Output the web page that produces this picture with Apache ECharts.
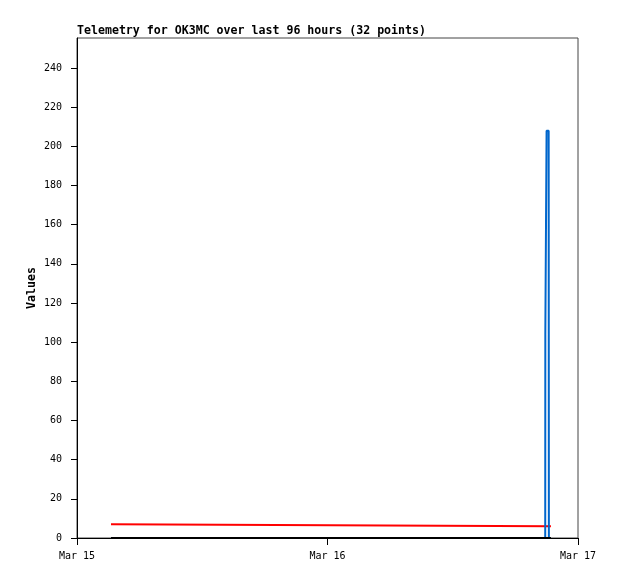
<!DOCTYPE html>
<html><head><meta charset="utf-8">
<script src="https://cdn.jsdelivr.net/npm/echarts@6/dist/echarts.min.js"></script>
<style>html,body{margin:0;padding:0;background:#fff}#c{width:618px;height:579px}</style>
</head><body><div id="c"></div>
<script>
// hours since Mar 15 00:00
var xTickLabels = ['Mar 15', 'Mar 16', 'Mar 17'];
var redHours = [3.26, 3.45, 45.41];
var redValues = [7, 6, 6];
var blueHours = [3.26, 44.86, 44.87, 44.99, 45.19, 45.21, 45.41];
var blueValues = [0, 0, 104, 208, 208, 0, 0];
var blackHours = [3.26, 45.41];
var blackValues = [0, 0];

function pairs(h, v) { return h.map(function (x, i) { return [x, v[i]]; }); }
var mono = 'DejaVu Sans Mono';
var chart = echarts.init(document.getElementById('c'), null, {renderer: 'canvas'});
chart.setOption({
  animation: false,
  backgroundColor: '#fff',
  title: {
    text: 'Telemetry for OK3MC over last 96 hours (32 points)',
    left: 77, top: 25, padding: 0,
    textStyle: {fontFamily: mono, fontSize: 11.6, fontWeight: 'bold', color: '#000'}
  },
  grid: {left: 77, right: 40, top: 38, bottom: 41, show: true, borderColor: '#444', borderWidth: 1},
  xAxis: {
    type: 'value', min: 0, max: 48, interval: 24,
    axisLine: {show: true, lineStyle: {color: '#000', width: 1}},
    axisTick: {show: true, length: 7, lineStyle: {color: '#000'}},
    splitLine: {show: false},
    axisLabel: {
      fontFamily: mono, fontSize: 10, color: '#000', margin: 13,
      formatter: function (v) { return xTickLabels[Math.round(v / 24)] || ''; }
    }
  },
  yAxis: {
    type: 'value', min: 0, max: 255.3, interval: 20,
    name: 'Values', nameLocation: 'middle', nameRotate: 90, nameGap: 39,
    nameMoveOverlap: false,
    nameTextStyle: {fontFamily: mono, fontSize: 11.6, fontWeight: 'bold', color: '#000'},
    axisLine: {show: true, lineStyle: {color: '#000', width: 1}},
    axisTick: {show: true, length: 6, lineStyle: {color: '#000'}},
    splitLine: {show: false},
    axisLabel: {fontFamily: mono, fontSize: 10, color: '#000', margin: 15, showMaxLabel: false}
  },
  series: [
    {type: 'line', data: pairs(redHours, redValues), showSymbol: false,
     lineStyle: {color: '#ff0000', width: 2}, itemStyle: {color: '#ff0000'}},
    {type: 'line', data: pairs(blueHours, blueValues), showSymbol: false,
     lineStyle: {color: '#0066cc', width: 2}, itemStyle: {color: '#0066cc'}},
    {type: 'line', data: pairs(blackHours, blackValues), showSymbol: false,
     lineStyle: {color: '#000000', width: 2}, itemStyle: {color: '#000'}}
  ]
});
</script></body></html>
